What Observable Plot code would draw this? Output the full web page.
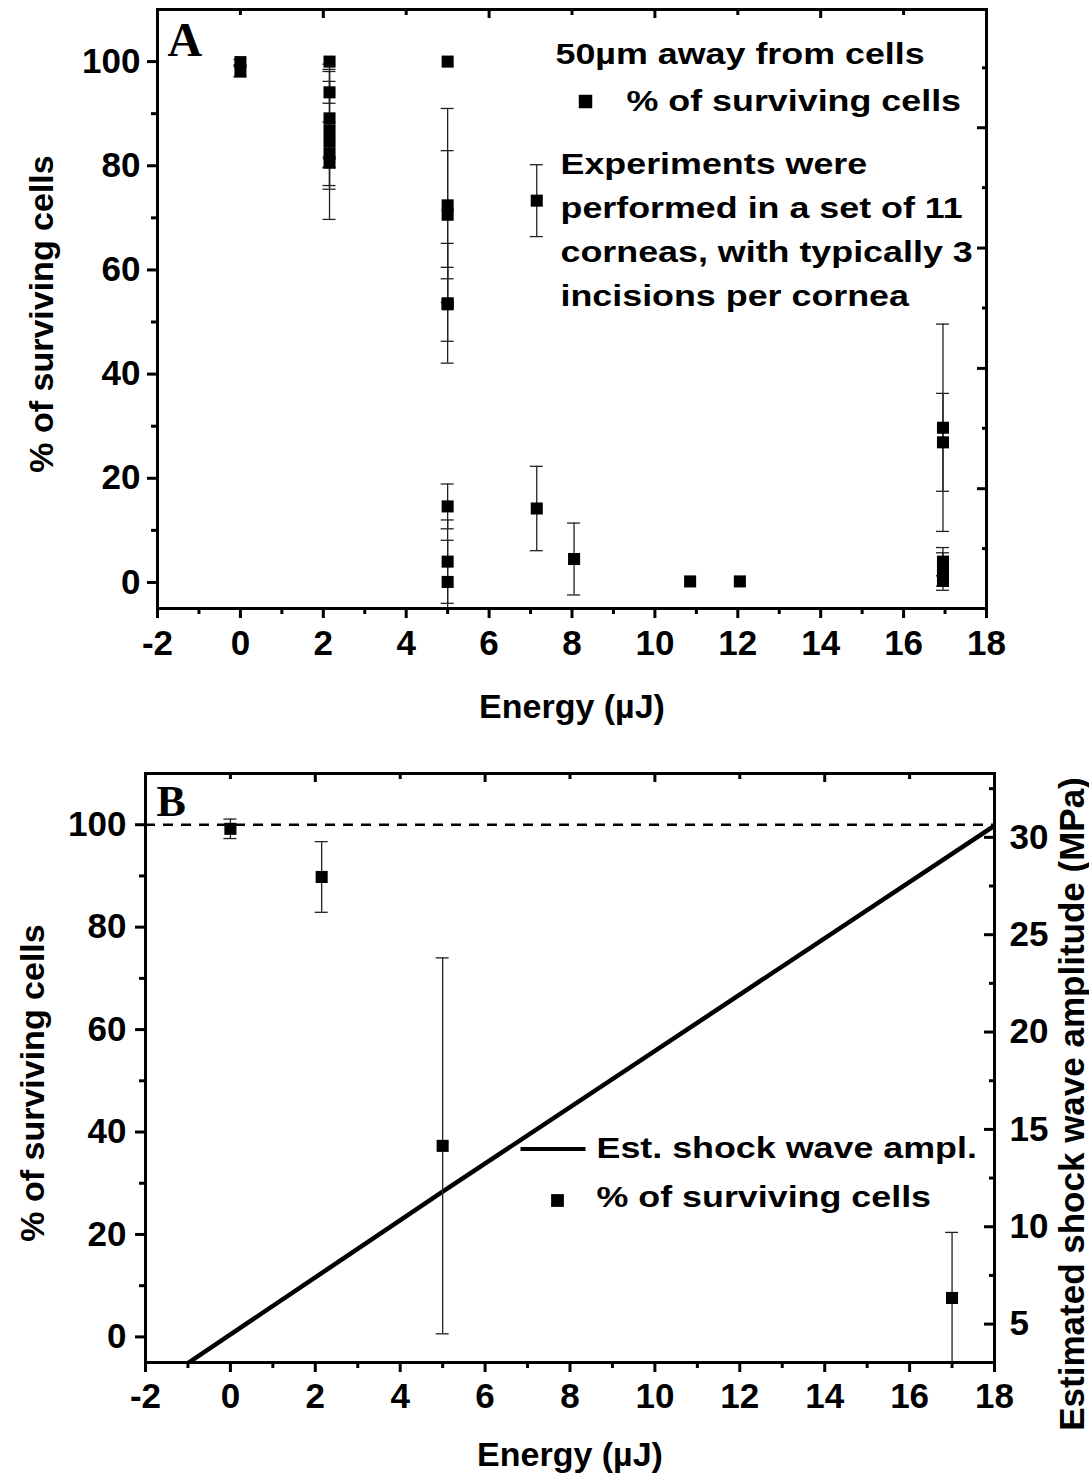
<!DOCTYPE html>
<html><head><meta charset="utf-8">
<script src="https://cdn.jsdelivr.net/npm/d3@7"></script>
<script src="https://cdn.jsdelivr.net/npm/@observablehq/plot@0.6"></script>
<style>
body{margin:0;background:#fff;}
#root{width:1089px;}
#root svg{display:block;}
</style></head><body><div id="root"></div>
<script>
// ---------- Panel A data ----------
const energyA   = [0, 0, 2.15, 2.15, 2.15, 2.15, 2.15, 2.15, 2.15, 5, 5, 5, 5, 5, 5, 5, 5, 7.15, 7.15, 8.05, 10.85, 12.05, 16.95, 16.95, 16.95, 16.95, 16.95];
const survivalA = [99.9, 98.1, 100, 94.1, 89.1, 86.8, 84.6, 82.3, 80.6, 100, 72.4, 70.6, 53.6, 53.4, 14.6, 4.0, 0.1, 73.3, 14.2, 4.5, 0.2, 0.2, 29.7, 26.9, 4.0, 2.1, 0.3];
const errorA    = [0.5, 1.0, 0, 2.1, 9.4, 11.3, 14.9, 6.1, 1.0, 0, 18.6, 12.3, 11.5, 7.1, 4.3, 8.0, 8.0, 6.9, 8.1, 6.9, 0, 0, 19.9, 9.4, 2.7, 3.6, 1.0];

// ---------- Panel B data ----------
const energyB   = [0, 2.15, 5, 17];
const survivalB = [99.2, 89.8, 37.3, 7.6];
const errorB    = [1.9, 6.9, 36.7, 12.8];
const shockEnergy = [-1, 5, 18];
const shockMPa    = [3.0, 11.8, 30.6];
const refLevel = 100;

// ---------- Axes / tick values ----------
const xMajor = [-2, 0, 2, 4, 6, 8, 10, 12, 14, 16, 18];
const xMinor = [-1, 1, 3, 5, 7, 9, 11, 13, 15, 17];
const topMajor = [-2, 2, 6, 10, 14, 18];
const topMinor = [0, 4, 8, 12, 16];
const yMajor = [0, 20, 40, 60, 80, 100];
const yMinor = [10, 30, 50, 70, 90];
const rightMajorA = [18, 41.1, 64.2, 87.3];
const rightMinorA = [6.5, 29.6, 52.7, 75.8, 98.8];
const mpaMajor = [5, 10, 15, 20, 25, 30];
const mpaMinor = [7.5, 12.5, 17.5, 22.5, 27.5, 32.5];

// ---------- Texts ----------
const yTitle = "% of surviving cells";
const xTitle = "Energy (\u00b5J)";
const rightTitleB = "Estimated shock wave amplitude (MPa)";
const headerA = "50\u00b5m away from cells";
const legendPoints = "% of surviving cells";
const legendLine = "Est. shock wave ampl.";
const annoLines = ["Experiments were", "performed in a set of 11", "corneas, with typically 3", "incisions per cornea"];

// MPa (right axis of B) expressed in the % scale
const pctFromMPa = m => 2.497 + 3.8015 * (m - 5);

const rowsA = energyA.map((e, i) => ({x: e, v: survivalA[i], e: errorA[i]}));
const rowsB = energyB.map((e, i) => ({x: e, v: survivalB[i], e: errorB[i]}));
const shockRows = shockEnergy.map((e, i) => ({x: e, y: pctFromMPa(shockMPa[i])}));

const FONT = "'Liberation Sans', Arial, Helvetica, sans-serif";
const SERIF = "'Liberation Serif', 'Times New Roman', serif";
const LBL = {fontSize: 35, fontWeight: "bold"};
const NOTXT = () => "";

function frameAxes(leftPad, bottomPad) {
  return [
    Plot.axisX(xMajor, {anchor: "bottom", tickSize: 10, strokeWidth: 3, tickPadding: bottomPad, tickFormat: d => String(d), label: null, ...LBL}),
    Plot.axisX(xMinor, {anchor: "bottom", tickSize: 6, strokeWidth: 3, tickFormat: NOTXT, label: null}),
    Plot.axisX(topMajor, {anchor: "top", tickSize: -8, strokeWidth: 3, tickFormat: NOTXT, label: null}),
    Plot.axisX(topMinor, {anchor: "top", tickSize: -5, strokeWidth: 3, tickFormat: NOTXT, label: null}),
    Plot.axisY(yMajor, {anchor: "left", tickSize: 10, strokeWidth: 3, tickPadding: leftPad, tickFormat: d => String(d), label: null, ...LBL}),
    Plot.axisY(yMinor, {anchor: "left", tickSize: 6, strokeWidth: 3, tickFormat: NOTXT, label: null})
  ];
}

function errorMarks(rows) {
  const withErr = rows.filter(d => d.e > 0);
  return [
    Plot.ruleX(withErr, {x: "x", y1: d => d.v - d.e, y2: d => d.v + d.e, stroke: "#222", strokeWidth: 1.3, clip: true}),
    Plot.ruleY(withErr, {y: d => d.v + d.e, x1: "x", x2: "x", insetLeft: -6.5, insetRight: -6.5, stroke: "#222", strokeWidth: 1.3, clip: true}),
    Plot.ruleY(withErr, {y: d => d.v - d.e, x1: "x", x2: "x", insetLeft: -6.5, insetRight: -6.5, stroke: "#222", strokeWidth: 1.3, clip: true}),
    Plot.dot(rows, {x: "x", y: "v", symbol: "square", r: 6.8, fill: "black"})
  ];
}

const common = {
  width: 1089,
  x: {domain: [-2, 18]},
  y: {domain: [-5, 110]},
  style: {fontFamily: FONT, background: "white", color: "black", overflow: "visible"}
};

const legendText = {frameAnchor: "top-left", textAnchor: "start", lineAnchor: "bottom", fontSize: 29.5, fontWeight: "bold"};

// ---------- Panel A ----------
const plotA = Plot.plot({
  ...common,
  height: 740,
  marginLeft: 157, marginRight: 103, marginTop: 9, marginBottom: 132,
  marks: [
    ...frameAxes(7, 12),
    Plot.axisY(rightMajorA, {anchor: "right", tickSize: -10, strokeWidth: 3, tickFormat: NOTXT, label: null}),
    Plot.axisY(rightMinorA, {anchor: "right", tickSize: -5, strokeWidth: 3, tickFormat: NOTXT, label: null}),
    ...errorMarks(rowsA),
    Plot.frame({stroke: "black", strokeWidth: 3}),
    Plot.text(["A"], {text: d => d, frameAnchor: "top-left", dx: 10, dy: 46, textAnchor: "start", lineAnchor: "bottom", fontFamily: SERIF, fontWeight: "bold", fontSize: 48}),
    Plot.text([headerA], {...legendText, text: d => d, dx: 398, dy: 54}),
    Plot.dot([legendPoints], {frameAnchor: "top-left", dx: 428, dy: 92, symbol: "square", r: 7.6, fill: "black"}),
    Plot.text([legendPoints], {...legendText, text: d => d, dx: 469, dy: 101}),
    ...annoLines.map((t, i) => Plot.text([t], {...legendText, text: d => d, dx: 403, dy: 164 + 44 * i})),
    Plot.text([xTitle], {text: d => d, frameAnchor: "bottom", textAnchor: "middle", dy: 109, lineAnchor: "bottom", fontSize: 34, fontWeight: "bold"}),
    Plot.text([yTitle], {text: d => d, frameAnchor: "left", textAnchor: "middle", rotate: -90, dx: -105, dy: 5, lineAnchor: "bottom", fontSize: 34, fontWeight: "bold"})
  ]
});

// ---------- Panel B ----------
const mpaLabel = new Map(mpaMajor.map(m => [pctFromMPa(m), String(m)]));
const plotB = Plot.plot({
  ...common,
  height: 735,
  marginLeft: 145, marginRight: 95, marginTop: 33, marginBottom: 113,
  marks: [
    ...frameAxes(9, 11),
    Plot.axisY(mpaMajor.map(pctFromMPa), {anchor: "right", tickSize: -11, strokeWidth: 3, tickPadding: 26, tickFormat: d => mpaLabel.get(d), label: null, ...LBL}),
    Plot.axisY(mpaMinor.map(pctFromMPa), {anchor: "right", tickSize: -6, strokeWidth: 3, tickFormat: NOTXT, label: null}),
    Plot.ruleY([refLevel], {stroke: "black", strokeWidth: 2.5, strokeDasharray: "10,8"}),
    Plot.line(shockRows, {x: "x", y: "y", stroke: "black", strokeWidth: 4.5, clip: true}),
    ...errorMarks(rowsB),
    Plot.frame({stroke: "black", strokeWidth: 3}),
    Plot.text(["B"], {text: d => d, frameAnchor: "top-left", dx: 11, dy: 42, textAnchor: "start", lineAnchor: "bottom", fontFamily: SERIF, fontWeight: "bold", fontSize: 44}),
    Plot.frame({fill: "black", stroke: null, insetLeft: 375, insetRight: 409, insetTop: 373.5, insetBottom: 211.5}),
    Plot.text([legendLine], {...legendText, text: d => d, dx: 451, dy: 384}),
    Plot.dot([legendPoints], {frameAnchor: "top-left", dx: 412, dy: 427, symbol: "square", r: 7.2, fill: "black"}),
    Plot.text([legendPoints], {...legendText, text: d => d, dx: 451, dy: 433}),
    Plot.text([xTitle], {text: d => d, frameAnchor: "bottom", textAnchor: "middle", dy: 103, lineAnchor: "bottom", fontSize: 34, fontWeight: "bold"}),
    Plot.text([yTitle], {text: d => d, frameAnchor: "left", textAnchor: "middle", rotate: -90, dx: -102, dy: 15, lineAnchor: "bottom", fontSize: 34, fontWeight: "bold"}),
    Plot.text([rightTitleB], {text: d => d, frameAnchor: "right", textAnchor: "middle", rotate: -90, dx: 89, dy: 36, lineAnchor: "bottom", fontSize: 35, fontWeight: "bold"})
  ]
});

// The in-plot annotation texts of the original are wider than Arial: stretch them horizontally.
const stretchSet = new Set([headerA, legendPoints, legendLine, ...annoLines]);
function stretch(svg, s) {
  svg.querySelectorAll("text").forEach(t => {
    if (!stretchSet.has(t.textContent)) return;
    const tr = t.getAttribute("transform") || "";
    if (tr.includes("rotate")) return;
    if (tr) t.setAttribute("transform", tr + ` scale(${s},1)`);
    else {
      const x = +t.getAttribute("x") || 0, y = +t.getAttribute("y") || 0;
      t.removeAttribute("x"); t.removeAttribute("y");
      t.setAttribute("transform", `translate(${x},${y}) scale(${s},1)`);
    }
  });
}
stretch(plotA, 1.215);
stretch(plotB, 1.215);

const root = document.getElementById("root");
root.appendChild(plotA);
root.appendChild(plotB);
</script>
</body></html>
